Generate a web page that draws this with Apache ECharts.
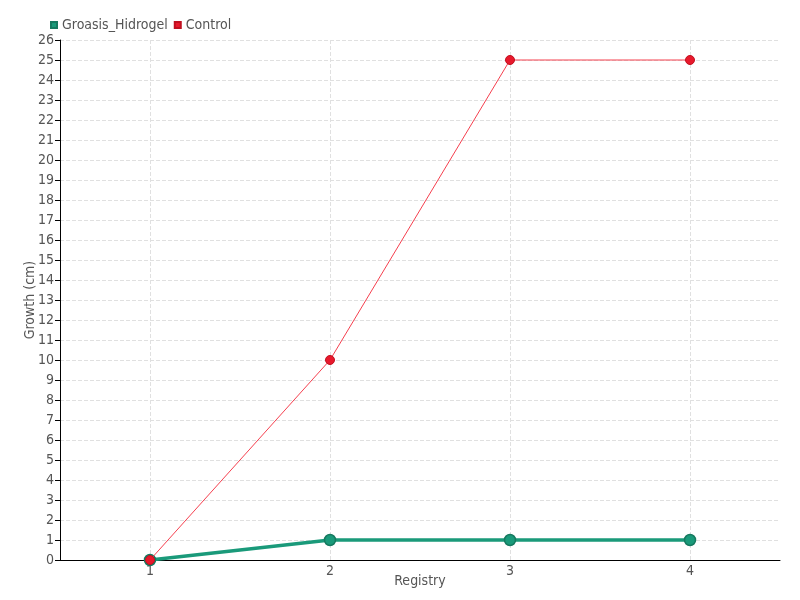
<!DOCTYPE html>
<html><head><meta charset="utf-8">
<script src="https://cdn.jsdelivr.net/npm/echarts@6/dist/echarts.min.js"></script>
<style>html,body{margin:0;padding:0;background:#fff}#c{width:800px;height:600px}</style>
</head><body><div id="c"></div>
<script>
const categories = ['1', '2', '3', '4'];
const hidrogel = [0, 1, 1, 1];
const control = [0, 10, 25, 25];
const yTicks = {min: 0, max: 26, interval: 1};
const font = '"DejaVu Sans Condensed", "Liberation Sans Narrow", sans-serif';
const chart = echarts.init(document.getElementById('c'));
chart.setOption({
  animation: false,
  textStyle: {fontFamily: font},
  legend: {
    left: 45, top: 13, itemWidth: 6, itemHeight: 6, itemGap: 6,
    icon: 'rect',
    textStyle: {fontFamily: font, fontSize: 14, color: '#555'},
    data: ['Groasis_Hidrogel', 'Control']
  },
  grid: {left: 60, right: 20, top: 40, bottom: 40, outerBoundsMode: 'none', containLabel: false},
  xAxis: {
    type: 'category', data: categories, boundaryGap: true,
    name: 'Registry', nameLocation: 'middle', nameGap: 14, nameMoveOverlap: false,
    nameTextStyle: {fontFamily: font, fontSize: 14, color: '#555'},
    axisLine: {lineStyle: {color: '#000'}},
    axisTick: {alignWithLabel: true, lineStyle: {color: '#000'}},
    axisLabel: {fontFamily: font, fontSize: 14, color: '#555', margin: 4},
    splitLine: {show: true, alignWithLabel: true, lineStyle: {type: 'dashed', color: '#e0e0e0'}}
  },
  yAxis: {
    type: 'value', min: yTicks.min, max: yTicks.max, interval: yTicks.interval,
    name: 'Growth (cm)', nameLocation: 'middle', nameGap: 23, nameMoveOverlap: false,
    nameTextStyle: {fontFamily: font, fontSize: 14, color: '#555'},
    axisLine: {show: true, lineStyle: {color: '#000'}},
    axisTick: {show: true, lineStyle: {color: '#000'}},
    axisLabel: {fontFamily: font, fontSize: 14, color: '#555', margin: 6},
    splitLine: {show: true, lineStyle: {type: 'dashed', color: '#e0e0e0'}}
  },
  series: [
    {
      name: 'Groasis_Hidrogel', type: 'line', data: hidrogel,
      symbol: 'circle', symbolSize: 11, z: 2,
      itemStyle: {color: '#1a9a7a', borderColor: '#167a60', borderWidth: 1.5},
      lineStyle: {width: 3.5, color: '#1a9a7a'}
    },
    {
      name: 'Control', type: 'line', data: control,
      symbol: 'circle', symbolSize: 9, z: 3,
      itemStyle: {color: '#e8192c', borderColor: '#c01020', borderWidth: 1},
      lineStyle: {width: 1, color: '#f5404f'}
    }
  ]
});
</script></body></html>
